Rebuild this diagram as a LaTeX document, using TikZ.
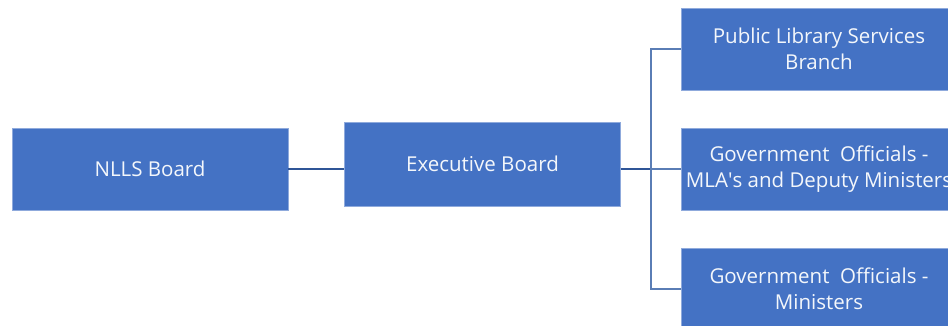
\documentclass[tikz,border=0pt]{standalone}
\usepackage{fontspec}
\setmainfont{Open Sans}
\definecolor{boxBlue}{HTML}{4472C4}
\definecolor{boxEdge}{HTML}{8FAADC}
\definecolor{lineDark}{HTML}{2F5597}
\definecolor{lineLight}{HTML}{5A7DB5}
\begin{document}
\begin{tikzpicture}
[x=1pt,y=-1pt,
  boxDecorate/.style={shape=rectangle,fill=boxBlue,draw=boxEdge,line width=0.8pt,
    minimum width=276pt,minimum height=82pt,inner sep=2pt,align=center,
    text=white!94!boxBlue,font=\fontsize{20.5}{26}\selectfont},
  trunkLine/.style={lineDark,line width=2pt},
  branchLine/.style={lineLight,line width=1.3pt}]
\useasboundingbox (0,0) rectangle (948,325);
%% nodes or boxes
\foreach \nodename/\x/\y/\txt in {
  nlls/150/169/NLLS Board,
  pub/819/49/Public Library Services\\Branch,
  mla/819/169/Government\ \ Officials -\\MLA\textquotesingle s and Deputy Ministers,
  mins/819/289/Government\ \ Officials -\\Ministers}
{
  \node (\nodename) at (\x,\y) [boxDecorate] {\txt};
}
\node (exec) at (482.5,164) [boxDecorate,minimum height=84pt] {Executive Board};
\coordinate (trunk) at (651,169);
%% lines
\draw[trunkLine] (nlls.east) -- (nlls.east -| exec.west);
\draw[trunkLine] (exec.east |- trunk) -- (trunk);
\draw[branchLine] (trunk) -- (mla.west);
\draw[branchLine] (pub.west) -| (trunk) |- (mins.west);
\end{tikzpicture}
\end{document}
